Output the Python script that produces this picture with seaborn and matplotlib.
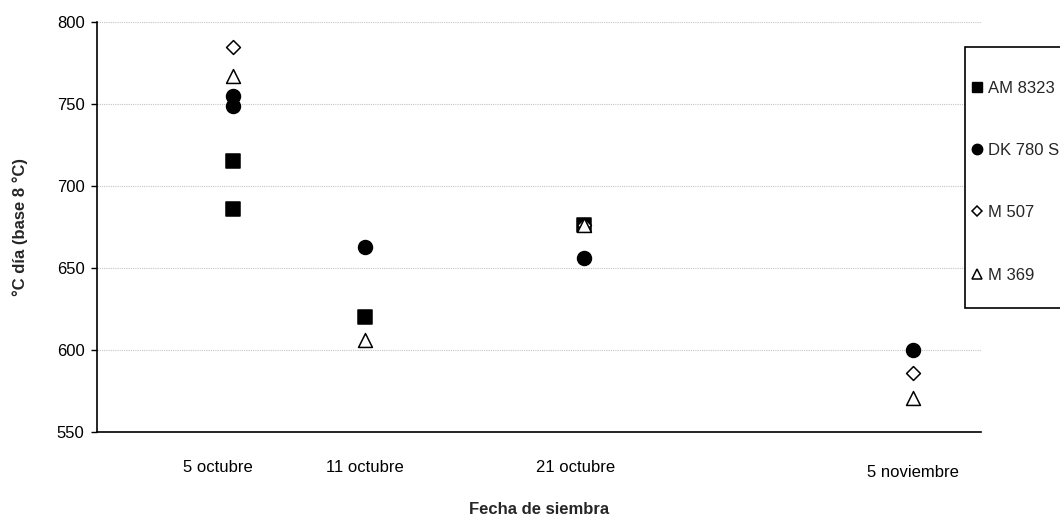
import matplotlib
matplotlib.use("Agg")
import matplotlib.pyplot as plt
from matplotlib.lines import Line2D
from matplotlib.patches import Rectangle
from matplotlib.transforms import ScaledTranslation
import pandas as pd
import seaborn as sns

# Sowing dates and thermal time (degree-days, base 8 °C) per hybrid
am8323_dates = ["2000-10-05", "2000-10-05", "2000-10-11", "2000-10-21"]
am8323_vals = [715, 686, 620, 676]

dk780_dates = ["2000-10-05", "2000-10-05", "2000-10-11", "2000-10-21", "2000-11-05"]
dk780_vals = [755, 749, 663, 656, 600]

m507_dates = ["2000-10-05", "2000-10-21", "2000-11-05"]
m507_vals = [785, 676, 586]

m369_dates = ["2000-10-05", "2000-10-11", "2000-10-21", "2000-11-05"]
m369_vals = [767, 606, 676, 571]

series_names = ["AM 8323", "DK 780 S", "M 507", "M 369"]

tick_dates = ["2000-10-05", "2000-10-11", "2000-10-21", "2000-11-05"]
tick_labels = ["5 octubre", "11 octubre", "21 octubre", "5 noviembre"]

y_ticks = [550, 600, 650, 700, 750, 800]

sns.set_style("ticks")
plt.rcParams["font.family"] = ["Liberation Sans", "DejaVu Sans"]

fig = plt.figure(figsize=(10.6, 5.19), dpi=100)
ax = fig.add_axes([97 / 1060, 1 - 432 / 519, (981 - 97) / 1060, (432 - 22) / 519])

frames = []
for name, d, v in [
    ("AM 8323", am8323_dates, am8323_vals),
    ("DK 780 S", dk780_dates, dk780_vals),
    ("M 507", m507_dates, m507_vals),
    ("M 369", m369_dates, m369_vals),
]:
    frames.append(pd.DataFrame({"fecha": pd.to_datetime(d), "gd": v, "hibrido": name}))
df = pd.concat(frames, ignore_index=True)

styles = {
    "AM 8323": dict(marker="s", s=88, facecolor="black"),
    "DK 780 S": dict(marker="o", s=100, facecolor="black"),
    "M 507": dict(marker="D", s=50, facecolor="white"),
    "M 369": dict(marker="^", s=100, facecolor="white"),
}

for name in series_names:
    sub = df[df["hibrido"] == name]
    st = styles[name]
    sns.scatterplot(
        data=sub, x="fecha", y="gd", ax=ax,
        marker=st["marker"], s=st["s"],
        facecolor=st["facecolor"], edgecolor="black", linewidth=1.1,
        legend=False, zorder=3,
    )

x0 = pd.Timestamp("2000-10-05")
ax.set_xlim(x0 - pd.Timedelta(days=6.2), x0 + pd.Timedelta(days=34.1))
ax.set_ylim(550, 800)
ax.set_yticks(y_ticks)
ax.set_xticks(pd.to_datetime(tick_dates))
ax.set_xticklabels(tick_labels)

ax.grid(axis="y", color="#c4c4c4", linestyle=(0, (1, 1)), linewidth=0.8)
ax.set_axisbelow(True)
for side in ["top", "right"]:
    ax.spines[side].set_visible(False)
for side in ["left", "bottom"]:
    ax.spines[side].set_linewidth(1.2)
    ax.spines[side].set_color("black")

ax.tick_params(axis="y", length=4, width=1.0, pad=5, labelsize=12, colors="black")
ax.tick_params(axis="x", length=0, pad=20.5, labelsize=12, colors="black")

# nudge the date labels slightly
offsets = [(-15, 0), (0, 0), (-8, 0), (0, -5)]
for lab, (dx, dy) in zip(ax.get_xticklabels(), offsets):
    lab.set_transform(lab.get_transform() + ScaledTranslation(dx / 100, dy / 100, fig.dpi_scale_trans))

ax.set_xlabel("Fecha de siembra", fontsize=12, fontweight="bold", labelpad=15.5)
ax.set_ylabel("°C día (base 8 °C)", fontsize=12, fontweight="bold", labelpad=21)

# legend box
box = Rectangle((965 / 1060, 1 - 308 / 519), 0.2, (308 - 47) / 519,
                transform=fig.transFigure, facecolor="white", edgecolor="black",
                linewidth=1.2, zorder=5)
fig.add_artist(box)

handles = [
    Line2D([], [], linestyle="none", marker="s", markersize=7, markerfacecolor="black", markeredgecolor="black"),
    Line2D([], [], linestyle="none", marker="o", markersize=7.5, markerfacecolor="black", markeredgecolor="black"),
    Line2D([], [], linestyle="none", marker="D", markersize=5.5, markerfacecolor="white", markeredgecolor="black", markeredgewidth=1.1),
    Line2D([], [], linestyle="none", marker="^", markersize=7.5, markerfacecolor="white", markeredgecolor="black", markeredgewidth=1.1),
]
leg = fig.legend(handles, series_names, loc="upper left",
                 bbox_to_anchor=(971 / 1060, 1 - 81 / 519), bbox_transform=fig.transFigure,
                 frameon=False, fontsize=12, borderpad=0, borderaxespad=0,
                 handlelength=0.7, handletextpad=0.32, labelspacing=2.83)
leg.set_zorder(6)

fig.savefig("out.png", dpi=100)
